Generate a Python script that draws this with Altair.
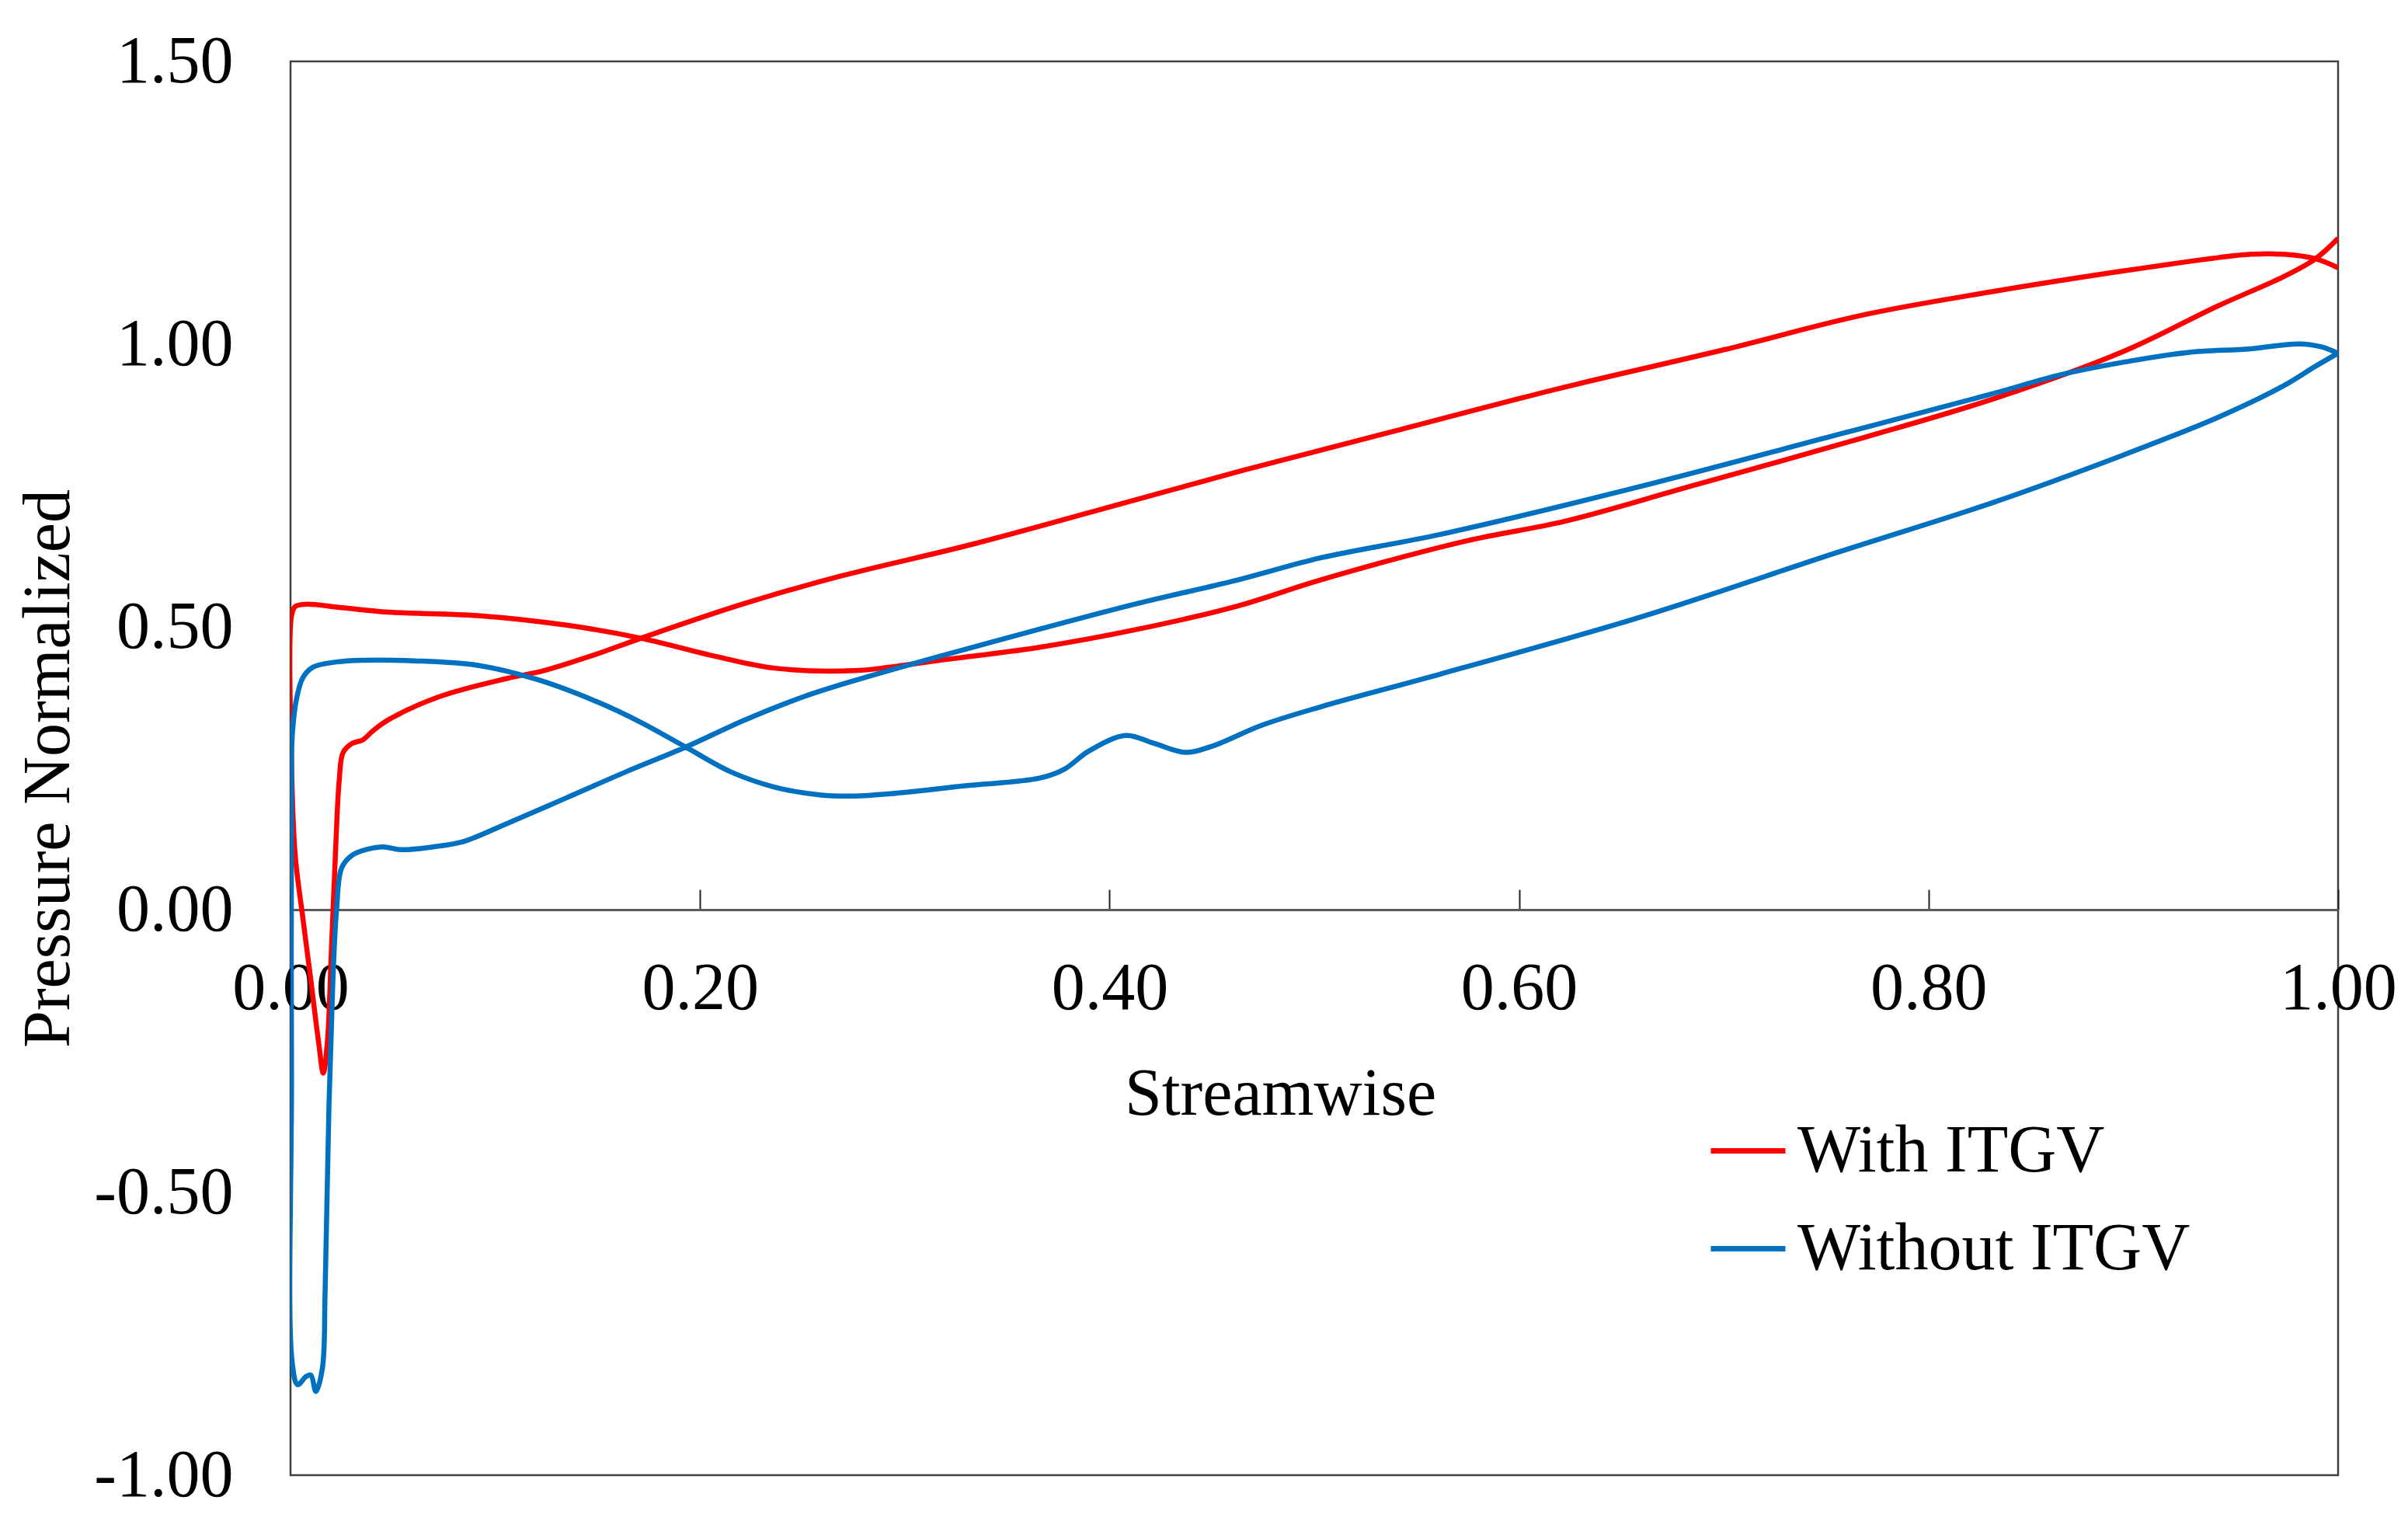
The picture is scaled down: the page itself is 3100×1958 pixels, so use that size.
import altair as alt
import pandas as pd

# ---------------- data ----------------
series_names = ["With ITGV", "Without ITGV"]
series_colors = ["#FF0000", "#0070C0"]
x_ticks = [0.0, 0.2, 0.4, 0.6, 0.8, 1.0]
y_ticks = [-1.0, -0.5, 0.0, 0.5, 1.0, 1.5]

# With ITGV - branch starting at the top of the leading edge
red_p_x = [0.0005, 0.0023, 0.0075, 0.025, 0.0478, 0.0914, 0.1349, 0.1712, 0.2075, 0.2365,
           0.2754, 0.293, 0.317, 0.3658, 0.414, 0.4626, 0.503, 0.5742, 0.6226, 0.6831,
           0.7686, 0.8315, 0.8944, 0.9416, 0.9732, 0.989, 1.0]
red_p_y = [0.52, 0.536, 0.540, 0.534, 0.526, 0.520, 0.503, 0.480, 0.448, 0.427,
           0.4226, 0.429, 0.441, 0.464, 0.496, 0.537, 0.583, 0.652, 0.687, 0.748,
           0.835, 0.903, 0.986, 1.068, 1.119, 1.151, 1.187]
# With ITGV - branch with the dip
red_s_x = [0.0005, 0.0023, 0.006, 0.0099, 0.0137, 0.016, 0.018, 0.020, 0.0219, 0.0238,
           0.0257, 0.0301, 0.0352, 0.0402, 0.0478, 0.073, 0.1059, 0.1237, 0.148, 0.1712,
           0.222, 0.2689, 0.334, 0.40, 0.4653, 0.54, 0.620, 0.70, 0.7686, 0.8315,
           0.8944, 0.9416, 0.9574, 0.9732, 0.989, 1.0]
red_s_y = [0.26, 0.096, -0.014, -0.124, -0.234, -0.289, -0.234, -0.069, 0.096, 0.229,
           0.278, 0.294, 0.300, 0.316, 0.3356, 0.377, 0.409, 0.4226, 0.45, 0.480,
           0.5416, 0.590, 0.647, 0.712, 0.777, 0.847, 0.922, 0.99, 1.052, 1.093,
           1.129, 1.153, 1.159, 1.159, 1.151, 1.135]

# Without ITGV - branch starting at the top of the leading edge
blue_p_x = [0.0005, 0.001, 0.0029, 0.006, 0.0111, 0.0225, 0.0352, 0.0605, 0.0914, 0.1204,
            0.1494, 0.1712, 0.193, 0.2148, 0.2365, 0.2583, 0.2754, 0.293, 0.3295, 0.3658,
            0.378, 0.39, 0.408, 0.4217, 0.4372, 0.45, 0.4747, 0.503, 0.5621, 0.659,
            0.7557, 0.8315, 0.8944, 0.9416, 0.9732, 0.989, 1.0]
blue_p_y = [0.27, 0.316, 0.372, 0.41, 0.429, 0.438, 0.441, 0.44, 0.432, 0.407,
            0.368, 0.331, 0.2875, 0.244, 0.2166, 0.203, 0.201, 0.205, 0.219, 0.2326,
            0.2486, 0.2807, 0.308, 0.294, 0.278, 0.289, 0.3265, 0.3585, 0.417, 0.517,
            0.632, 0.720, 0.803, 0.871, 0.926, 0.961, 0.984]
# Without ITGV - branch with the deep dip
blue_s_x = [0.0005, 0.0008, 0.0035, 0.0075, 0.0099, 0.0124, 0.0156, 0.0169, 0.0188, 0.0207,
            0.0225, 0.025, 0.030, 0.0378, 0.0453, 0.054, 0.0696, 0.0841, 0.1059, 0.1349,
            0.164, 0.193, 0.222, 0.251, 0.2754, 0.317, 0.3658, 0.414, 0.4626, 0.503,
            0.5621, 0.659, 0.7557, 0.8315, 0.863, 0.8944, 0.9259, 0.9574, 0.981, 0.9921,
            1.0]
blue_s_y = [-0.3, -0.80, -0.84, -0.826, -0.823, -0.852, -0.81, -0.674, -0.344, -0.124,
            0.0, 0.074, 0.096, 0.107, 0.111, 0.106, 0.111, 0.120, 0.1525, 0.198,
            0.244, 0.2875, 0.3356, 0.377, 0.405, 0.448, 0.496, 0.5417, 0.583, 0.622,
            0.664, 0.748, 0.840, 0.9125, 0.9446, 0.9675, 0.985, 0.9918, 1.0005, 0.995,
            0.9835]

# ---------------- build table ----------------
rows = []


def add_series(name, px, py, sx, sy):
    pts = list(zip(px, py))[::-1] + list(zip(sx, sy))
    for i, (a, b) in enumerate(pts):
        rows.append({"series": name, "idx": i, "x": a, "y": b})


add_series(series_names[0], red_p_x, red_p_y, red_s_x, red_s_y)
add_series(series_names[1], blue_p_x, blue_p_y, blue_s_x, blue_s_y)
df = pd.DataFrame(rows)

FONT = "Liberation Serif"
FS = 86

x_scale = alt.Scale(domain=[0, 1], nice=False, zero=False)
y_scale = alt.Scale(domain=[-1, 1.5], nice=False, zero=False)

y_axis = alt.Axis(
    values=y_ticks, format=".2f",
    labelExpr="replace(datum.label, '\u2212', '-')",
    ticks=False, tickSize=0, domain=False, grid=False,
    labelPadding=74, labelFont=FONT, labelFontSize=FS, labelColor="black",
    title="Pressure Normalized", titleFont=FONT, titleFontSize=FS,
    titleFontWeight="normal", titleColor="black",
    titleX=-286, titleY=910, titleAngle=270,
    titleBaseline="alphabetic", titleAlign="center",
)

x_axis_bottom = alt.Axis(
    orient="bottom", offset=-728, values=x_ticks, format=".2f",
    ticks=False, tickSize=0, domain=False, grid=False,
    labelPadding=59, labelFont=FONT, labelFontSize=FS, labelColor="black",
    labelFlush=False, labelOverlap=False,
    title="Streamwise", titleFont=FONT, titleFontSize=FS,
    titleFontWeight="normal", titleColor="black",
    titleX=1274, titleY=263, titleBaseline="alphabetic", titleAlign="center",
)

x_axis_top = alt.Axis(
    orient="top", offset=-1092, values=x_ticks, labels=False,
    ticks=True, tickSize=26, tickWidth=2, tickColor="#222222",
    domain=True, domainColor="#595959", domainWidth=3, grid=False,
    title="",
)

legend = alt.Legend(
    orient="none", legendX=1825, legendY=1351, title=None,
    symbolType="stroke", symbolSize=9216, symbolStrokeWidth=7,
    labelFont=FONT, labelFontSize=FS, labelColor="black", labelOffset=12,
    labelLimit=2000, rowPadding=31, padding=0,
)

base = alt.Chart(df)

lines = base.mark_line(strokeWidth=6.5, interpolate="catmull-rom", clip=True).encode(
    x=alt.X("x:Q", scale=x_scale, axis=x_axis_bottom),
    y=alt.Y("y:Q", scale=y_scale, axis=y_axis),
    color=alt.Color("series:N",
                    scale=alt.Scale(domain=series_names, range=series_colors),
                    legend=legend),
    order=alt.Order("idx:Q"),
)

tick_layer = base.mark_point(opacity=0, size=1).encode(
    x=alt.X("x:Q", scale=x_scale, axis=x_axis_top),
    y=alt.Y("y:Q", scale=y_scale, axis=y_axis),
)

chart = (
    alt.layer(tick_layer, lines)
    .resolve_axis(x="independent")
    .properties(
        width=2636, height=1820,
        autosize=alt.AutoSizeParams(type="none"),
        padding={"left": 366, "top": 71, "right": 80, "bottom": 50},
    )
    .configure(font=FONT)
    .configure_view(stroke="#404040", strokeWidth=2.5)
)

chart.save("out.html", embed_options={"renderer": "svg", "actions": False})
